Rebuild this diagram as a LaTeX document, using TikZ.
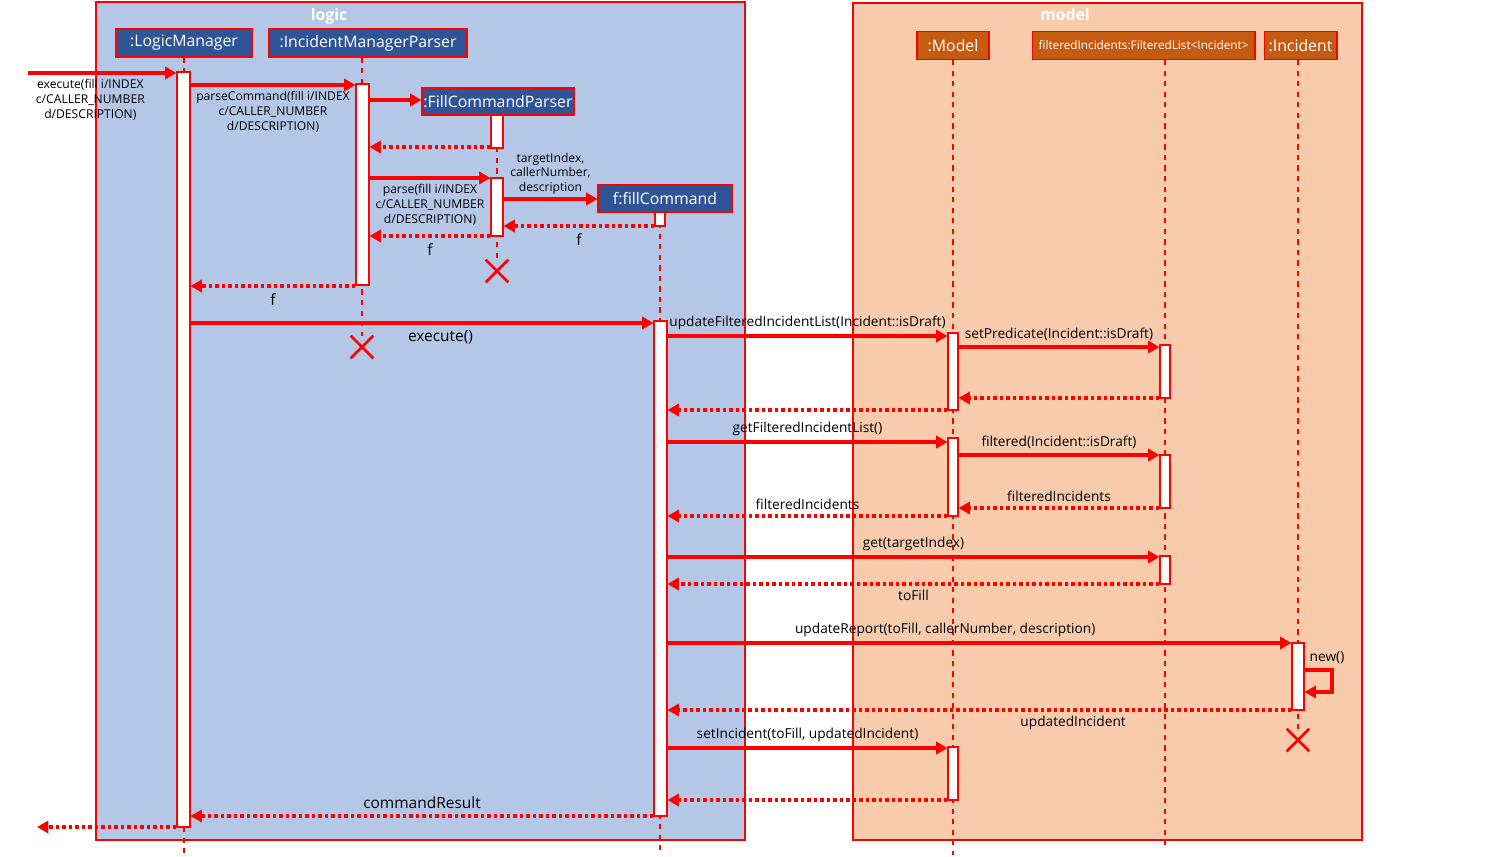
\documentclass[tikz,border=0pt]{standalone}
\usepackage{fontspec}
\setmainfont{Open Sans}
\usetikzlibrary{arrows.meta, backgrounds, fit, shapes.misc}
\definecolor{logicbg}{HTML}{B4C7E7}
\definecolor{modelbg}{HTML}{F8CBAD}
\definecolor{hdrblue}{HTML}{2F5597}
\definecolor{hdrorange}{HTML}{C55A11}
\tikzset{
    frame/.style={draw=red, line width=1.6pt},
    ftitle/.style={text=white, font=\bfseries\fontsize{9}{10}\selectfont, inner sep=0pt},
    hdr/.style={draw=red, fill=hdrblue, text=white, font=\fontsize{9}{10}\selectfont,
        minimum height=0.56cm, inner sep=0pt, line width=0.6pt},
    mhdr/.style={hdr, fill=hdrorange},
    act/.style={draw=red, fill=white, line width=0.6pt, inner sep=0pt},
    life/.style={draw=red, dash pattern=on 3pt off 3pt, line width=0.7pt},
    kill/.style={draw=red, cross out, minimum size=0.4cm, inner sep=0pt, line width=1.5pt},
    lbl/.style={fill=none, draw=none, text=black, inner sep=2.5pt, font=\fontsize{7.8}{9}\selectfont},
    big/.style={lbl, inner sep=3.5pt, font=\fontsize{8.8}{10}\selectfont},
    small/.style={lbl, inner sep=2.5pt, align=center, font=\fontsize{6.9}{8.5}\selectfont},
    ret/.style={dash pattern=on 2pt off 1.7pt},
    selfmsg/.style={draw=red, line width=1.8pt, -{Triangle[length=6.5pt,width=7pt]}},
    seq/.style={
        every edge/.style={draw=red, line width=1.8pt, -{Triangle[length=6.5pt,width=7pt]}},
    }
}
\begin{document}
\begin{tikzpicture}[x=0.02cm, y=-0.02cm, seq]
\useasboundingbox (0,0) rectangle (1500,856);
\draw[frame, fill=logicbg] (96,2) rectangle (745,840);
\draw[frame, fill=modelbg] (853,3) rectangle (1362,840);
\node[ftitle] (logic) at (329,16) {logic};
\node[ftitle] (model) at (1065,15) {model};

\node[hdr, minimum width=2.72cm] (lm) at (184,43) {:LogicManager};
\node[hdr, minimum width=3.96cm] (imp) at (368,43) {:IncidentManagerParser};
\node[hdr, minimum width=3.04cm, minimum height=0.54cm] (fcp) at (498,101.5) {:FillCommandParser};
\node[hdr, minimum width=2.68cm, minimum height=0.54cm] (fc) at (665,198.5) {f:fillCommand};
\node[mhdr, minimum width=1.44cm] (mdl) at (953,45.5) {:Model};
\node[mhdr, minimum width=4.46cm, font=\fontsize{6.7}{8}\selectfont] (fil) at (1143.5,45.5) {filteredIncidents:FilteredList<Incident>};
\node[mhdr, minimum width=1.46cm] (inc) at (1300.5,45.5) {:Incident};

\node[kill] (fcpX) at (497,271) {};
\node[kill] (impX) at (362,347) {};
\node[kill] (incX) at (1298,740) {};
\coordinate (lmEnd) at (184,855);
\coordinate (fcEnd) at (660,855);
\coordinate (mdlEnd) at (953,855);
\coordinate (filEnd) at (1165,845);

\draw[life] (lm.south) -- (lmEnd);
\draw[life] (imp.south -| impX) -- (impX);
\draw[life] (fcp.south -| fcpX) -- (fcpX);
\draw[life] (fc.south -| fcEnd) -- (fcEnd);
\draw[life] (mdl.south) -- (mdlEnd);
\draw[life] (fil.south -| filEnd) -- (filEnd);
\draw[life] (inc.south -| incX) -- (incX);

\node[act, fit={(177,72) (190,827)}] (lm1) {};
\node[act, fit={(356,84) (369,285)}] (imp1) {};
\node[act, fit={(491,115) (503,148)}] (fcp1) {};
\node[act, fit={(491,178) (503,236)}] (fcp2) {};
\node[act, fit={(655,212) (665,226)}] (fc1) {};
\node[act, fit={(654,321) (667,816)}] (fc2) {};
\node[act, fit={(948,333) (958,410)}] (mdl1) {};
\node[act, fit={(948,438) (958,516)}] (mdl2) {};
\node[act, fit={(948,747) (958,800)}] (mdl3) {};
\node[act, fit={(1160,345) (1170,398)}] (fil1) {};
\node[act, fit={(1160,455) (1170,508)}] (fil2) {};
\node[act, fit={(1160,556) (1170,584)}] (fil3) {};
\node[act, fit={(1292,643) (1304,710)}] (inc1) {};

\coordinate (in) at (28,73);
\coordinate (out) at (37,827);
\coordinate (loop) at (1332,692);
\path
    (in) edge node[small, below, pos=0.42] {execute(fill i/INDEX\\c/CALLER\_NUMBER\\d/DESCRIPTION)} (lm1.west |- in)
    (lm1.east |- 0,85) edge node[small, below] {parseCommand(fill i/INDEX\\c/CALLER\_NUMBER\\d/DESCRIPTION)} (imp1.west |- 0,85)
    (imp1.east |- 0,100) edge (fcp.west |- 0,100)
    (fcp1.west |- 0,147) edge[ret] (imp1.east |- 0,147)
    (imp1.east |- 0,178) edge node[small, below] {parse(fill i/INDEX\\c/CALLER\_NUMBER\\d/DESCRIPTION)} (fcp2.west |- 0,178)
    (fcp2.east |- 0,199) edge node[small, above, inner sep=1.5pt] {targetIndex,\\callerNumber,\\description} (fc.west |- 0,199)
    (fc1.west |- 0,226) edge[ret] node[big, below] {f} (fcp2.east |- 0,226)
    (fcp2.west |- 0,236) edge[ret] node[big, below] {f} (imp1.east |- 0,236)
    (imp1.west |- 0,286) edge[ret] node[big, below] {f} (lm1.east |- 0,286)
    (lm1.east |- 0,323) edge node[big, below, pos=0.54] {execute()} (fc2.west |- 0,323)
    (fc2.east |- 0,336) edge node[lbl, above] {updateFilteredIncidentList(Incident::isDraft)} (mdl1.west |- 0,336)
    (mdl1.east |- 0,347) edge node[lbl, above] {setPredicate(Incident::isDraft)} (fil1.west |- 0,347)
    (fil1.west |- 0,398) edge[ret] (mdl1.east |- 0,398)
    (mdl1.west |- 0,410) edge[ret] (fc2.east |- 0,410)
    (fc2.east |- 0,442) edge node[lbl, above] {getFilteredIncidentList()} (mdl2.west |- 0,442)
    (mdl2.east |- 0,455) edge node[lbl, above] {filtered(Incident::isDraft)} (fil2.west |- 0,455)
    (fil2.west |- 0,508) edge[ret] node[lbl, above] {filteredIncidents} (mdl2.east |- 0,508)
    (mdl2.west |- 0,516) edge[ret] node[lbl, above] {filteredIncidents} (fc2.east |- 0,516)
    (fc2.east |- 0,557) edge node[lbl, above] {get(targetIndex)} (fil3.west |- 0,557)
    (fil3.west |- 0,584) edge[ret] node[lbl, below] {toFill} (fc2.east |- 0,584)
    (fc2.east |- 0,643) edge node[lbl, above, pos=0.445] {updateReport(toFill, callerNumber, description)} (inc1.west |- 0,643)
    (inc1.west |- 0,710) edge[ret] node[lbl, below, pos=0.35] {updatedIncident} (fc2.east |- 0,710)
    (fc2.east |- 0,748) edge node[lbl, above] {setIncident(toFill, updatedIncident)} (mdl3.west |- 0,748)
    (mdl3.west |- 0,800) edge[ret] (fc2.east |- 0,800)
    (fc2.west |- 0,816) edge[ret] node[big, above] {commandResult} (lm1.east |- 0,816)
    (lm1.west |- out) edge[ret] (out)
;
\draw[selfmsg] (inc1.east |- 0,670) -| (loop) -- (inc1.east |- loop);
\node[lbl] (newlbl) at (1327,658) {new()};
\end{tikzpicture}
\end{document}
